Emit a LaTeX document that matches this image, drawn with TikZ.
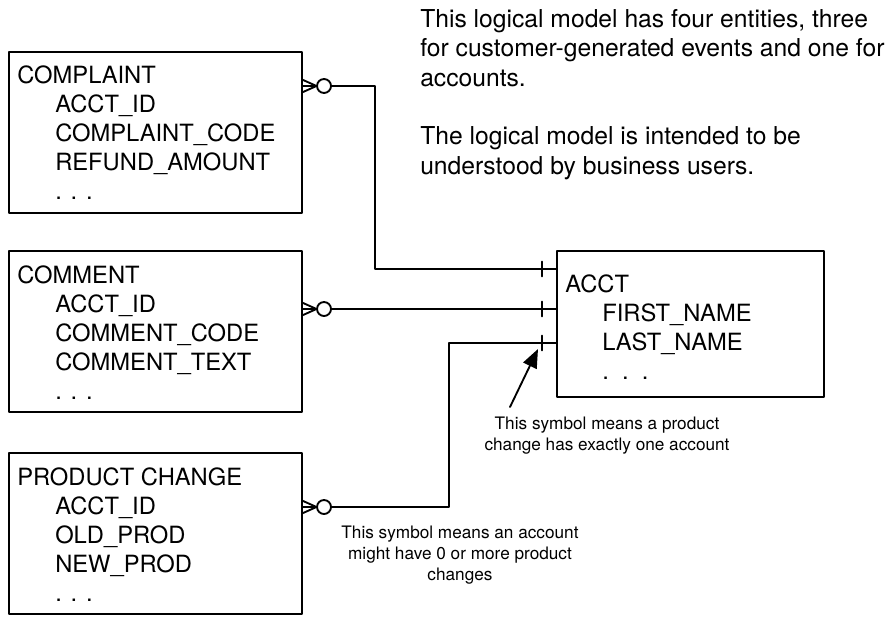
\documentclass[tikz,border=0pt]{standalone}
\usepackage{fontspec}
\setmainfont{TeX Gyre Heros}
\usetikzlibrary{arrows.meta,calc}
\newcommand{\attind}{\hspace*{28.5pt}}
\tikzset{
  zeromany/.pic={
    \draw[line width=1.4pt] (0,-6.5) -- (14.5,0) (0,6.5) -- (14.5,0) (0,0) -- (15,0);
    \draw[line width=1.4pt] (22,0) circle (7);
  },
  onlyone/.pic={
    \draw[line width=1.4pt] (-15,-7.5) -- (-15,7.5);
  }
}

\begin{document}
\begin{tikzpicture}[line cap=round,line join=round,x=0.75pt,y=-0.75pt,
  entity/.style={draw,line width=1.4pt,inner sep=0pt,outer sep=0pt,anchor=north west,
    minimum width=219.75pt,minimum height=120.75pt},
  attrs/.style={anchor=north west,align=left,inner sep=0pt,font=\fontsize{17.8}{21.75}\selectfont},
  note/.style={anchor=north,align=center,inner sep=0pt,font=\fontsize{12.9}{15.75}\selectfont},
  rel/.style={line width=1.4pt}]
	\useasboundingbox (0,0) rectangle (891,617);
	% entities
	\node[entity] (complaint) at (9,52) {};
	\node[attrs] (complaint-att) at ($(complaint.north west)+(8,14)$)
		{COMPLAINT\\\attind ACCT\_ID\\\attind COMPLAINT\_CODE\\\attind REFUND\_AMOUNT\\\attind . . .};
	\node[entity] (comment) at (9,251) {};
	\node[attrs] (comment-att) at ($(comment.north west)+(8,14)$)
		{COMMENT\\\attind ACCT\_ID\\\attind COMMENT\_CODE\\\attind COMMENT\_TEXT\\\attind . . .};
	\node[entity] (product) at (9,453) {};
	\node[attrs] (product-att) at ($(product.north west)+(8,14)$)
		{PRODUCT CHANGE\\\attind ACCT\_ID\\\attind OLD\_PROD\\\attind NEW\_PROD\\\attind . . .};
	\node[entity,minimum width=200.25pt,minimum height=109.5pt] (acct) at (557,251) {};
	\node[attrs] (acct-att) at ($(acct.north west)+(8,23)$)
		{ACCT\\\hspace*{27.75pt}FIRST\_NAME\\\hspace*{27.75pt}LAST\_NAME\\\hspace*{27.75pt}.~~.~~.};
	% relationships
	\coordinate (cf1) at ($(complaint.north east)+(0,34)$);
	\coordinate (cf2) at ($(comment.north east)+(0,58)$);
	\coordinate (cf3) at ($(product.north east)+(0,54)$);
	\coordinate (ac1) at ($(acct.north west)+(0,18)$);
	\coordinate (ac2) at (acct.west |- cf2);
	\coordinate (ac3) at ($(acct.north west)+(0,92)$);
	\pic at (cf1) {zeromany};
	\pic at (cf2) {zeromany};
	\pic at (cf3) {zeromany};
	\pic at (ac1) {onlyone};
	\pic at (ac2) {onlyone};
	\pic at (ac3) {onlyone};
	\draw[rel] ($(cf1)+(29,0)$) -- ++(44,0) |- (ac1);
	\draw[rel] ($(cf2)+(29,0)$) -- (ac2);
	\draw[rel] ($(cf3)+(29,0)$) -- ++(118,0) |- (ac3);
	% notes
	\node[anchor=north west,align=left,inner sep=0pt,font=\fontsize{18.5}{22}\selectfont] (intro) at (420,9.3)
		{This logical model has four entities, three\\for customer-generated events and one for\\accounts.\\[22pt]The logical model is intended to be\\understood by business users.};
	\node[note] (note-one) at (607,416.5) {This symbol means a product\\change has exactly one account};
	\node[note] (note-many) at (460,526) {This symbol means an account\\might have 0 or more product\\changes};
	\coordinate (tail) at (510,407);
	\coordinate (tip) at (538,349);
	\draw[rel,-{Triangle[length=14pt,width=11pt]}] (tail) -- (tip);
\end{tikzpicture}
\end{document}
